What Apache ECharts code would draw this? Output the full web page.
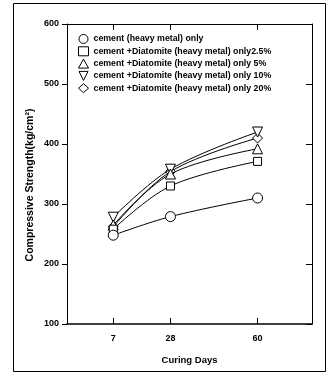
<!DOCTYPE html>
<html><head><meta charset="utf-8">
<script src="https://cdn.jsdelivr.net/npm/echarts@6/dist/echarts.min.js"></script>
<style>html,body{margin:0;padding:0;background:#fff}#c{width:331px;height:374px}</style>
</head><body><div id="c"></div>
<script>
const days = [7, 28, 60];
const xTickLabels = ['7', '28', '60'];
const seriesNames = [
  'cement (heavy metal) only',
  'cement +Diatomite (heavy metal) only2.5%',
  'cement +Diatomite (heavy metal) only 5%',
  'cement +Diatomite (heavy metal) only 10%',
  'cement +Diatomite (heavy metal) only 20%'
];
const cementOnly = [248, 279, 310];
const diatomite2_5 = [258, 330, 371];
const diatomite5 = [265, 350, 392];
const diatomite10 = [278, 358, 420];
const diatomite20 = [262, 354, 410];
const allValues = [cementOnly, diatomite2_5, diatomite5, diatomite10, diatomite20];

const symbols = ['circle', 'rect', 'triangle', 'path://M0,0 L10,0 L5,10 Z', 'diamond'];
const symSizes = [10, 8, 10, 10, 10];
const font = 'Liberation Sans';

const chart = echarts.init(document.getElementById('c'), null, {renderer: 'canvas'});
const series = allValues.map((vals, i) => ({
  name: seriesNames[i],
  type: 'line',
  smooth: 0.35,
  data: vals.map((v, j) => [days[j], v]),
  symbol: symbols[i],
  symbolSize: symSizes[i],
  showAllSymbol: true,
  lineStyle: {color: '#000', width: 1},
  itemStyle: {color: '#fff', borderColor: '#000', borderWidth: 1},
  z: 10 - i
}));

chart.setOption({
  animation: false,
  backgroundColor: '#fff',
  grid: {left: 67, right: 19, top: 24, bottom: 50},
  legend: {
    orient: 'vertical', left: 73, top: 29, itemGap: 2.3,
    itemWidth: 10, itemHeight: 9,
    data: seriesNames.map((n, i) => ({name: n, icon: symbols[i]})),
    textStyle: {fontFamily: font, fontWeight: 'bold', fontSize: 8.8, color: '#000', padding: [0,0,0,0]},
    itemStyle: {color: '#fff', borderColor: '#000', borderWidth: 1}
  },
  xAxis: [{
    type: 'value', min: -10, max: 80, position: 'bottom',
    axisLine: {show: true, onZero: false, lineStyle: {color: '#000', width: 1.5}},
    axisTick: {show: true, inside: true, length: 6, customValues: days, lineStyle: {color: '#000'}},
    axisLabel: {show: true, customValues: days, formatter: v => xTickLabels[days.indexOf(v)] ?? '', margin: 10,
      fontFamily: font, fontWeight: 'bold', fontSize: 9, color: '#000'},
    splitLine: {show: false},
    name: 'Curing Days', nameLocation: 'middle', nameGap: 31,
    nameTextStyle: {fontFamily: font, fontWeight: 'bold', fontSize: 9.5, color: '#000'}
  }, {
    type: 'value', min: -10, max: 80, position: 'top',
    axisLine: {show: true, onZero: false, lineStyle: {color: '#000', width: 1}},
    axisTick: {show: true, inside: true, length: 6, customValues: days, lineStyle: {color: '#000'}},
    axisLabel: {show: false}, splitLine: {show: false}
  }],
  yAxis: [{
    type: 'value', min: 100, max: 600, interval: 100, position: 'left',
    axisLine: {show: true, onZero: false, lineStyle: {color: '#000', width: 1}},
    axisTick: {show: true, inside: false, length: 5, lineStyle: {color: '#000'}},
    axisLabel: {margin: 8, fontFamily: font, fontWeight: 'bold', fontSize: 9, color: '#000'},
    splitLine: {show: false}
  }, {
    type: 'value', min: 100, max: 600, interval: 100, position: 'right',
    axisLine: {show: true, onZero: false, lineStyle: {color: '#000', width: 1}},
    axisTick: {show: true, inside: true, length: 6, lineStyle: {color: '#000'}},
    axisLabel: {show: false}, splitLine: {show: false}
  }],
  graphic: [{
    type: 'rect', shape: {x: 13.5, y: 3.5, width: 312, height: 368},
    style: {fill: 'none', stroke: '#000', lineWidth: 1}, silent: true
  }, {
    type: 'text', x: 30, y: 185, rotation: Math.PI / 2,
    style: {text: 'Compressive Strength(kg/cm²)', fontFamily: font, fontWeight: 'bold', fontSize: 10.5,
      fill: '#000', align: 'center', verticalAlign: 'middle'}, silent: true
  }],
  series: series
});
</script></body></html>
